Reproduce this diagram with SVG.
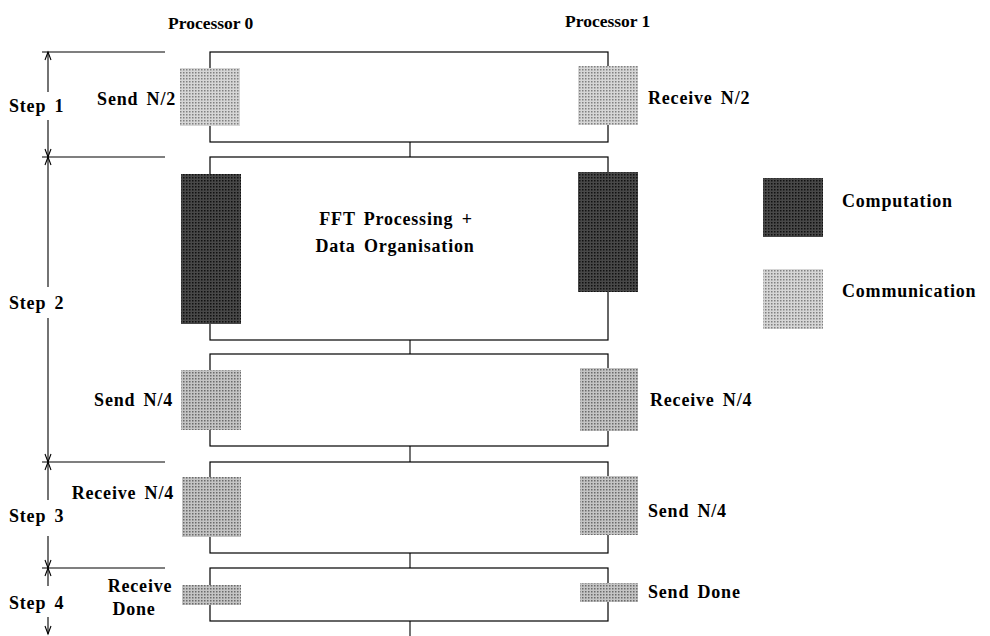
<svg xmlns="http://www.w3.org/2000/svg" width="990" height="636" viewBox="0 0 990 636">
<defs>
<pattern id="pl" width="3" height="3" patternUnits="userSpaceOnUse"><rect width="3" height="3" fill="#d6d6d6"/><rect width="1.5" height="1.5" fill="#808080"/></pattern>
<pattern id="pm" width="3" height="3" patternUnits="userSpaceOnUse"><rect width="3" height="3" fill="#c4c4c4"/><rect width="1.5" height="1.5" fill="#6a6a6a"/></pattern>
<pattern id="pd" width="3" height="3" patternUnits="userSpaceOnUse"><rect width="3" height="3" fill="#484848"/><rect width="1.5" height="1.5" fill="#101010"/></pattern>
<marker id="ah" markerUnits="userSpaceOnUse" orient="auto-start-reverse" refX="0" refY="0" markerWidth="10" markerHeight="10" overflow="visible"><path d="M-8,-3 L0,0 L-8,3" fill="none" stroke="#000" stroke-width="1.1"/></marker>
</defs>
<style>
.t{font-family:"Liberation Serif","Times New Roman",serif;font-weight:bold;font-size:18px;letter-spacing:0.8px;word-spacing:3px;fill:#000}
.h{font-family:"Liberation Serif","Times New Roman",serif;font-weight:bold;font-size:17.5px;fill:#000}
.box{fill:none;stroke:#000;stroke-width:1.2}
.ln{fill:none;stroke:#000;stroke-width:1.1}
.dim{fill:none;stroke:#000;stroke-width:1.1}
</style>
<rect width="990" height="636" fill="#fff"/>

<g id="headers">
<text class="h" x="168" y="29">Processor 0</text>
<text class="h" x="565" y="27">Processor 1</text>
</g>

<g id="steps">
<line class="ln" x1="42" y1="52" x2="165" y2="52"/>
<line class="ln" x1="42" y1="157" x2="165" y2="157"/>
<line class="ln" x1="42" y1="462" x2="165" y2="462"/>
<line class="ln" x1="42" y1="568" x2="165" y2="568"/>
<line class="dim" x1="48" y1="52" x2="48" y2="92" marker-start="url(#ah)"/>
<line class="dim" x1="48" y1="120" x2="48" y2="157" marker-end="url(#ah)"/>
<line class="dim" x1="48" y1="157" x2="48" y2="287" marker-start="url(#ah)"/>
<line class="dim" x1="48" y1="318" x2="48" y2="462" marker-end="url(#ah)"/>
<line class="dim" x1="48" y1="462" x2="48" y2="500" marker-start="url(#ah)"/>
<line class="dim" x1="48" y1="536" x2="48" y2="568" marker-end="url(#ah)"/>
<line class="dim" x1="48" y1="568" x2="48" y2="586" marker-start="url(#ah)"/>
<line class="dim" x1="48" y1="617" x2="48" y2="634" marker-end="url(#ah)"/>
<text class="t" x="9" y="112">Step 1</text>
<text class="t" x="9" y="309">Step 2</text>
<text class="t" x="9" y="522">Step 3</text>
<text class="t" x="9" y="609">Step 4</text>
</g>

<g id="connectors">
<line class="ln" x1="410" y1="142" x2="410" y2="157"/>
<line class="ln" x1="410" y1="340" x2="410" y2="354"/>
<line class="ln" x1="410" y1="446" x2="410" y2="462"/>
<line class="ln" x1="410" y1="553" x2="410" y2="568"/>
<line class="ln" x1="410" y1="621" x2="410" y2="636"/>
</g>

<g id="step1">
<rect class="box" x="210" y="52" width="398" height="90"/>
<rect x="180" y="68" width="60" height="58" fill="url(#pl)"/>
<rect x="578" y="66" width="60" height="59" fill="url(#pl)"/>
<text class="t" x="176" y="105" text-anchor="end">Send N/2</text>
<text class="t" x="648" y="104">Receive N/2</text>
</g>

<g id="step2">
<rect class="box" x="210" y="157" width="398" height="183"/>
<rect x="181" y="174" width="60" height="150" fill="url(#pd)"/>
<rect x="578" y="172" width="60" height="120" fill="url(#pd)"/>
<text class="t" x="396" y="225" text-anchor="middle">FFT Processing +</text>
<text class="t" x="395" y="252" text-anchor="middle">Data Organisation</text>
</g>

<g id="step2b">
<rect class="box" x="210" y="354" width="398" height="92"/>
<rect x="181" y="370" width="60" height="60" fill="url(#pm)"/>
<rect x="580" y="368" width="58" height="63" fill="url(#pm)"/>
<text class="t" x="173" y="406" text-anchor="end">Send N/4</text>
<text class="t" x="650" y="406">Receive N/4</text>
</g>

<g id="step3">
<rect class="box" x="210" y="462" width="398" height="91"/>
<rect x="182" y="477" width="59" height="60" fill="url(#pm)"/>
<rect x="580" y="476" width="58" height="59" fill="url(#pm)"/>
<text class="t" x="174" y="499" text-anchor="end">Receive N/4</text>
<text class="t" x="648" y="517">Send N/4</text>
</g>

<g id="step4">
<rect class="box" x="210" y="568" width="398" height="53"/>
<rect x="182" y="585" width="59" height="20" fill="url(#pm)"/>
<rect x="580" y="583" width="58" height="19" fill="url(#pm)"/>
<text class="t" x="140" y="592" text-anchor="middle">Receive</text>
<text class="t" x="134" y="615" text-anchor="middle">Done</text>
<text class="t" x="648" y="598">Send Done</text>
</g>

<g id="legend">
<rect x="763" y="178" width="60" height="59" fill="url(#pd)"/>
<text class="t" x="842" y="207">Computation</text>
<rect x="763" y="269" width="60" height="60" fill="url(#pl)"/>
<text class="t" x="842" y="297">Communication</text>
</g>
</svg>
